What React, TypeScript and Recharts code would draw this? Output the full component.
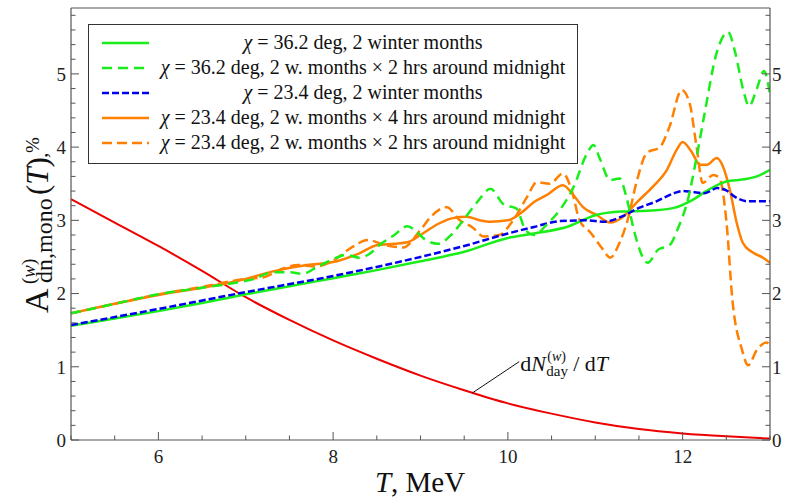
import React from 'react';
import {
  LineChart,
  Line,
  XAxis,
  YAxis,
  Legend,
  ReferenceLine,
  ReferenceDot,
} from 'recharts';

// Energy grid T (MeV) and asymmetry values (%)
const greenSolidT = [5, 5.5, 6, 6.5, 7, 7.5, 8, 8.5, 9, 9.5, 10, 10.3, 10.7, 11.0, 11.3, 11.6, 11.9, 12.1, 12.3, 12.5, 12.7, 12.85, 13];
const greenSolidA = [1.56, 1.66, 1.76, 1.87, 1.99, 2.1, 2.21, 2.32, 2.44, 2.57, 2.76, 2.82, 2.92, 3.07, 3.12, 3.13, 3.17, 3.27, 3.42, 3.53, 3.56, 3.6, 3.69];

const greenDashT = [5, 5.5, 6, 6.5, 6.9, 7.1, 7.3, 7.5, 7.65, 7.8, 8.0, 8.15, 8.3, 8.4, 8.55, 8.7, 8.85, 8.95, 9.05, 9.2, 9.35, 9.5, 9.65, 9.8, 9.95, 10.1, 10.2, 10.3, 10.45, 10.6, 10.75, 10.9, 10.98, 11.05, 11.17, 11.28, 11.36, 11.45, 11.6, 11.72, 11.85, 11.95, 12.06, 12.15, 12.25, 12.39, 12.52, 12.6, 12.7, 12.76, 12.85, 12.93, 13];
const greenDashA = [1.73, 1.86, 1.99, 2.08, 2.15, 2.2, 2.29, 2.29, 2.27, 2.35, 2.47, 2.53, 2.49, 2.53, 2.68, 2.8, 2.92, 2.85, 2.74, 2.68, 2.8, 3.02, 3.25, 3.43, 3.22, 3.16, 2.87, 2.8, 2.95, 3.15, 3.45, 3.9, 4.03, 3.85, 3.55, 3.57, 3.3, 2.83, 2.42, 2.6, 2.66, 2.9, 3.28, 3.8, 4.45, 5.29, 5.57, 5.3, 4.75, 4.56, 4.8, 5.04, 4.72];

const blueT = [5, 6, 7, 8, 9, 9.5, 10, 10.3, 10.6, 10.9, 11.1, 11.3, 11.5, 11.7, 11.9, 12.0, 12.1, 12.25, 12.4, 12.5, 12.6, 12.75, 13];
const blueA = [1.57, 1.79, 2.02, 2.24, 2.5, 2.65, 2.82, 2.91, 2.99, 3.0, 2.98, 3.05, 3.17, 3.26, 3.37, 3.4, 3.39, 3.37, 3.44, 3.41, 3.32, 3.26, 3.26];

const orangeSolidT = [5, 5.5, 6, 6.5, 7, 7.3, 7.7, 8.0, 8.3, 8.5, 8.7, 8.85, 9.0, 9.2, 9.37, 9.53, 9.68, 9.8, 10.0, 10.15, 10.3, 10.45, 10.63, 10.74, 10.86, 11.02, 11.17, 11.32, 11.47, 11.66, 11.82, 11.93, 12.0, 12.1, 12.2, 12.28, 12.39, 12.46, 12.54, 12.62, 12.69, 12.79, 12.92, 13];
const orangeSolidA = [1.73, 1.86, 1.98, 2.08, 2.2, 2.3, 2.39, 2.43, 2.55, 2.66, 2.68, 2.7, 2.8, 2.95, 3.03, 3.05, 3.0, 2.98, 3.0, 3.1, 3.25, 3.35, 3.48, 3.36, 3.18, 3.07, 2.97, 3.05, 3.24, 3.46, 3.69, 3.96, 4.07, 3.94, 3.76, 3.76, 3.85, 3.74, 3.42, 2.96, 2.69, 2.57, 2.49, 2.42];

const orangeDashT = [5, 5.5, 6, 6.5, 7, 7.2, 7.4, 7.6, 7.8, 8.0, 8.2, 8.4, 8.6, 8.8, 9.0, 9.12, 9.3, 9.45, 9.6, 9.72, 9.9, 10.06, 10.22, 10.33, 10.48, 10.63, 10.74, 10.82, 10.94, 11.09, 11.17, 11.28, 11.37, 11.47, 11.59, 11.74, 11.85, 11.99, 12.08, 12.16, 12.23, 12.35, 12.42, 12.5, 12.57, 12.68, 12.75, 12.85, 12.96, 13];
const orangeDashA = [1.73, 1.86, 1.99, 2.09, 2.2, 2.22, 2.33, 2.39, 2.37, 2.45, 2.62, 2.73, 2.66, 2.63, 2.87, 3.05, 3.18, 3.0, 2.9, 2.78, 2.8, 3.0, 3.32, 3.52, 3.5, 3.64, 3.37, 3.0, 2.84, 2.6, 2.49, 2.7, 3.0, 3.51, 3.92, 4.0, 4.28, 4.78, 4.6, 4.0, 3.51, 3.62, 3.58, 3.0, 1.91, 1.23, 1.02, 1.23, 1.33, 1.3];

// dN/dT spectrum (arbitrary units, same axis)
const spectrumT = [5, 5.5, 6, 6.5, 7, 7.5, 8, 8.5, 9, 9.5, 10, 10.5, 11, 11.5, 12, 12.5, 13];
const spectrumA = [3.29, 2.97, 2.65, 2.31, 1.95, 1.64, 1.36, 1.11, 0.88, 0.68, 0.5, 0.36, 0.24, 0.15, 0.09, 0.05, 0.02];

const xTicks = [5, 5.5, 6, 6.5, 7, 7.5, 8, 8.5, 9, 9.5, 10, 10.5, 11, 11.5, 12, 12.5, 13];
const xLabels = [6, 8, 10, 12];
const yTicks = [0, 0.2, 0.4, 0.6, 0.8, 1, 1.2, 1.4, 1.6, 1.8, 2, 2.2, 2.4, 2.6, 2.8, 3, 3.2, 3.4, 3.6, 3.8, 4, 4.2, 4.4, 4.6, 4.8, 5, 5.2, 5.4, 5.6, 5.8];

const legendLabels = [
  'χ = 36.2 deg, 2 winter months',
  'χ = 36.2 deg, 2 w. months × 2 hrs around midnight',
  'χ = 23.4 deg, 2 winter months',
  'χ = 23.4 deg, 2 w. months × 4 hrs around midnight',
  'χ = 23.4 deg, 2 w. months × 2 hrs around midnight',
];

const GREEN = '#1aee1a';
const BLUE = '#0000ee';
const ORANGE = '#ff8000';
const RED = '#ee0000';
const FRAME = '#555';
const FONT = "'Liberation Serif', 'Times New Roman', Times, 'DejaVu Serif', serif";
const serif = { fontFamily: FONT };

const legendStyles = [
  { color: GREEN, dash: undefined },
  { color: GREEN, dash: '10 6' },
  { color: BLUE, dash: '7 3' },
  { color: ORANGE, dash: undefined },
  { color: ORANGE, dash: '10 5' },
];

const toPoints = (t: number[], a: number[]) => t.map((v, i) => ({ t: v, a: a[i] }));

const isInt = (v: number) => Math.abs(v - Math.round(v)) < 1e-6;

const LeftTick = (props: any) => {
  const { x, y, payload } = props;
  const major = isInt(payload.value);
  return (
    <g>
      <line x1={x} x2={x + (major ? 8 : 4.5)} y1={y} y2={y} stroke={FRAME} strokeWidth={1} />
      {major && (
        <text x={x - 5} y={y} dy="0.36em" textAnchor="end" fontSize={19} style={serif} fill="#222">
          {Math.round(payload.value)}
        </text>
      )}
    </g>
  );
};

const RightTick = (props: any) => {
  const { x, y, payload } = props;
  const major = isInt(payload.value);
  return (
    <g>
      <line x1={x} x2={x - (major ? 8 : 4.5)} y1={y} y2={y} stroke={FRAME} strokeWidth={1} />
      {major && (
        <text x={x + 2} y={y} dy="0.36em" textAnchor="start" fontSize={19} style={serif} fill="#222">
          {Math.round(payload.value)}
        </text>
      )}
    </g>
  );
};

const BottomTick = (props: any) => {
  const { x, y, payload } = props;
  const labelled = xLabels.includes(payload.value);
  return (
    <g>
      <line x1={x} x2={x} y1={y} y2={y - (labelled ? 8 : 4.5)} stroke={FRAME} strokeWidth={1} />
      {labelled && (
        <text x={x} y={y + 23} textAnchor="middle" fontSize={19} style={serif} fill="#222">
          {payload.value}
        </text>
      )}
    </g>
  );
};

const XTitle = () => (
  <text x={420} y={492} textAnchor="middle" fontSize={29} style={serif} fill="#111">
    <tspan fontStyle="italic">T</tspan>, MeV
  </text>
);

const YTitle = () => (
  <g transform="translate(48,313) rotate(-90)" style={serif} fill="#111">
    <text x={0} y={0} fontSize={34}>A</text>
    <text x={29} y={-13} fontSize={19}>
      (<tspan fontStyle="italic">w</tspan>)
    </text>
    <text x={30} y={4} fontSize={24}>dn,mono</text>
    <text x={118} y={0} fontSize={31}>
      (<tspan fontStyle="italic">T</tspan>)
    </text>
    <text x={155} y={-1} fontSize={22}>,</text>
    <text x={160} y={-9} fontSize={19}>%</text>
  </g>
);

const SpectrumLabel = (props: any) => {
  const { viewBox } = props;
  const x0 = viewBox.x + 1;
  const base = viewBox.y + 9;
  return (
    <text style={serif} fill="#111" fontSize={22}>
      <tspan x={x0} y={base}>d</tspan>
      <tspan fontStyle="italic">N</tspan>
      <tspan x={x0 + 27} y={base - 10} fontSize={14}>
        (<tspan fontStyle="italic">w</tspan>)
      </tspan>
      <tspan x={x0 + 26} y={base + 5} fontSize={15}>day</tspan>
      <tspan x={x0 + 53} y={base}>/ d</tspan>
      <tspan fontStyle="italic">T</tspan>
    </text>
  );
};

const LegendBox = () => (
  <div style={{ width: 488, height: 138, border: '1.5px solid #333', background: '#fff' }}>
    <svg width={488} height={138}>
      {legendLabels.map((label, i) => {
        const base = 24 + i * 25;
        const s = legendStyles[i];
        return (
          <g key={label}>
            <line x1={13} x2={60} y1={base - 6} y2={base - 6} stroke={s.color} strokeWidth={2.5} strokeDasharray={s.dash} />
            <text x={274} y={base} textAnchor="middle" fontSize={20} style={serif} fill="#111">
              <tspan fontStyle="italic">χ</tspan>
              {label.slice(1)}
            </text>
          </g>
        );
      })}
    </svg>
  </div>
);

export default function App() {
  return (
    <div style={{ position: 'absolute', left: 0, top: 0, width: 785, height: 498, background: '#fff', fontFamily: FONT }}>
      <LineChart width={785} height={498} margin={{ top: 8, right: 0, bottom: 0, left: 11 }}>
        <XAxis
          dataKey="t"
          type="number"
          domain={[5, 13]}
          ticks={xTicks}
          interval={0}
          tick={<BottomTick />}
          tickSize={0}
          tickMargin={0}
          tickLine={false}
          height={58}
          axisLine={{ stroke: FRAME, strokeWidth: 1.2 }}
          label={{ content: () => <XTitle /> }}
          allowDataOverflow
        />
        <YAxis
          yAxisId="left"
          type="number"
          domain={[0, 5.9]}
          ticks={yTicks}
          interval={0}
          tick={<LeftTick />}
          tickSize={0}
          tickMargin={0}
          tickLine={false}
          width={60}
          axisLine={{ stroke: FRAME, strokeWidth: 1.2 }}
          label={{ content: () => <YTitle /> }}
          allowDataOverflow
        />
        <YAxis
          yAxisId="right"
          orientation="right"
          type="number"
          domain={[0, 5.9]}
          ticks={yTicks}
          interval={0}
          tick={<RightTick />}
          tickSize={0}
          tickMargin={0}
          tickLine={false}
          width={15}
          axisLine={{ stroke: FRAME, strokeWidth: 1.2 }}
          allowDataOverflow
        />
        <ReferenceLine yAxisId="left" y={5.9} stroke={FRAME} strokeWidth={1.2} />
        <Line yAxisId="left" data={toPoints(spectrumT, spectrumA)} dataKey="a" type="monotone" stroke={RED} strokeWidth={2} dot={false} isAnimationActive={false} />
        <Line yAxisId="left" data={toPoints(orangeDashT, orangeDashA)} dataKey="a" type="monotone" stroke={ORANGE} strokeWidth={2.5} strokeDasharray="10 5" dot={false} isAnimationActive={false} />
        <Line yAxisId="left" data={toPoints(orangeSolidT, orangeSolidA)} dataKey="a" type="monotone" stroke={ORANGE} strokeWidth={2.5} dot={false} isAnimationActive={false} />
        <Line yAxisId="left" data={toPoints(greenSolidT, greenSolidA)} dataKey="a" type="monotone" stroke={GREEN} strokeWidth={2.5} dot={false} isAnimationActive={false} />
        <Line yAxisId="left" data={toPoints(blueT, blueA)} dataKey="a" type="monotone" stroke={BLUE} strokeWidth={2.5} strokeDasharray="7 3" dot={false} isAnimationActive={false} />
        <Line yAxisId="left" data={toPoints(greenDashT, greenDashA)} dataKey="a" type="monotone" stroke={GREEN} strokeWidth={2.5} strokeDasharray="10 6" dot={false} isAnimationActive={false} />
        <ReferenceLine
          yAxisId="left"
          segment={[{ x: 9.59, y: 0.64 }, { x: 10.13, y: 1.07 }]}
          stroke="#111"
          strokeWidth={1}
        />
        <ReferenceDot yAxisId="left" x={10.13} y={1.07} r={0} fill="none" stroke="none" label={{ content: (p: any) => <SpectrumLabel {...p} /> }} />
        <Legend
          layout="horizontal"
          verticalAlign="middle"
          align="center"
          content={() => <LegendBox />}
          wrapperStyle={{ position: 'absolute', left: 88, top: 24, width: 491, height: 141 }}
        />
      </LineChart>
    </div>
  );
}
